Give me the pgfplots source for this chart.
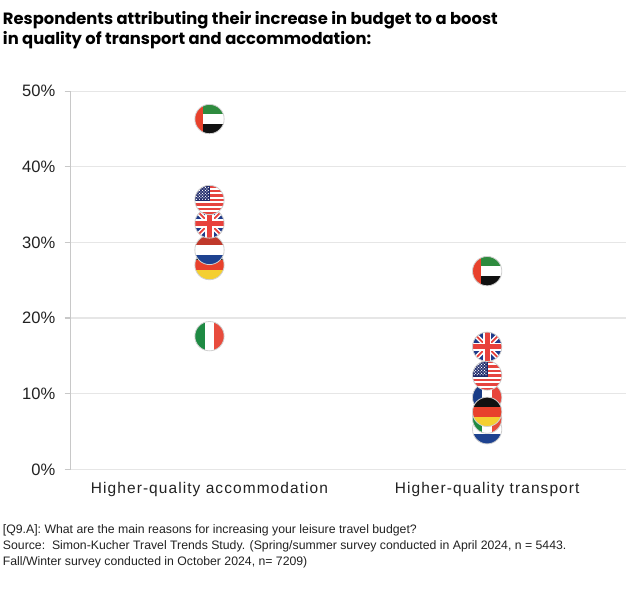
\documentclass[border=0pt]{standalone}
\usepackage{fontspec}
\setmainfont{Liberation Sans}
\newfontfamily\titlefont{Poppins}
\newfontfamily\labelfont{Liberation Sans}[LetterSpace=7]
\usepackage{pgfplots}
\pgfplotsset{compat=1.18}

\definecolor{axisgray}{HTML}{C8C8C8}
\definecolor{gridgray}{HTML}{E6E6E6}
\definecolor{labelcol}{HTML}{222222}
\definecolor{flagborder}{HTML}{D0D0D0}
\definecolor{uaered}{HTML}{E8412C}
\definecolor{uaegreen}{HTML}{2E8B3E}
\definecolor{flagblack}{HTML}{111111}
\definecolor{usred}{HTML}{E6443F}
\definecolor{usblue}{HTML}{1F2A6B}
\definecolor{ukblue}{HTML}{1F3A8A}
\definecolor{ukred}{HTML}{E8413C}
\definecolor{nlred}{HTML}{C0392B}
\definecolor{nlblue}{HTML}{1E4290}
\definecolor{degold}{HTML}{F4CF31}
\definecolor{dered}{HTML}{E8412C}
\definecolor{itgreen}{HTML}{1E8A43}
\definecolor{itred}{HTML}{E84C3D}
\definecolor{frblue}{HTML}{183C86}
\definecolor{frred}{HTML}{E8453C}

\newdimen\flagR \flagR=11pt
\newcommand\flagclip{\pgfpathcircle{\pgfpointorigin}{\flagR}\pgfusepath{clip}}
\newcommand\flagborder{\pgfsetstrokecolor{flagborder}\pgfsetlinewidth{0.6pt}%
  \pgfpathcircle{\pgfpointorigin}{\flagR}\pgfusepath{stroke}}
\newcommand\rectfill[5]{\pgfsetfillcolor{#1}%
  \pgfpathrectanglecorners{\pgfpoint{#2\flagR}{#3\flagR}}{\pgfpoint{#4\flagR}{#5\flagR}}%
  \pgfusepath{fill}}
\newcommand\diag[2]{\pgfsetstrokecolor{#1}\pgfsetlinewidth{#2\flagR}%
  \pgfpathmoveto{\pgfpoint{-1\flagR}{-1\flagR}}\pgfpathlineto{\pgfpoint{1\flagR}{1\flagR}}%
  \pgfpathmoveto{\pgfpoint{-1\flagR}{1\flagR}}\pgfpathlineto{\pgfpoint{1\flagR}{-1\flagR}}%
  \pgfusepath{stroke}}

\pgfdeclareplotmark{nl}{%
  \pgfscope\flagclip
  \rectfill{nlred}{-1}{0.333}{1}{1}%
  \rectfill{white}{-1}{-0.333}{1}{0.333}%
  \rectfill{nlblue}{-1}{-1}{1}{-0.333}%
  \endpgfscope\flagborder}
\pgfdeclareplotmark{de}{%
  \pgfscope\flagclip
  \rectfill{flagblack}{-1}{0.333}{1}{1}%
  \rectfill{dered}{-1}{-0.333}{1}{0.333}%
  \rectfill{degold}{-1}{-1}{1}{-0.333}%
  \endpgfscope\flagborder}
\pgfdeclareplotmark{it}{%
  \pgfscope\flagclip
  \rectfill{itgreen}{-1}{-1}{-0.333}{1}%
  \rectfill{white}{-0.333}{-1}{0.333}{1}%
  \rectfill{itred}{0.333}{-1}{1}{1}%
  \endpgfscope\flagborder}
\pgfdeclareplotmark{fr}{%
  \pgfscope\flagclip
  \rectfill{frblue}{-1}{-1}{-0.333}{1}%
  \rectfill{white}{-0.333}{-1}{0.333}{1}%
  \rectfill{frred}{0.333}{-1}{1}{1}%
  \endpgfscope\flagborder}
\pgfdeclareplotmark{uae}{%
  \pgfscope\flagclip
  \rectfill{uaegreen}{-0.45}{0.333}{1}{1}%
  \rectfill{white}{-0.45}{-0.333}{1}{0.333}%
  \rectfill{flagblack}{-0.45}{-1}{1}{-0.333}%
  \rectfill{uaered}{-1}{-1}{-0.45}{1}%
  \endpgfscope\flagborder}
\pgfdeclareplotmark{us}{%
  \pgfscope\flagclip
  \rectfill{white}{-1}{-1}{1}{1}%
  \foreach \t in {1,0.6923,0.3846,0.0769,-0.2308,-0.5385,-0.8462}{%
    \pgfsetfillcolor{usred}%
    \pgfpathrectanglecorners{\pgfpoint{-1\flagR}{\t\flagR}}{\pgfpoint{1\flagR}{\t\flagR-0.1538\flagR}}%
    \pgfusepath{fill}}%
  \rectfill{usblue}{-1}{-0.077}{0.05}{1}%
  \pgfsetfillcolor{white}%
  \foreach \sx in {-0.88,-0.68,-0.48,-0.28,-0.08}{%
    \foreach \sy in {0.05,0.25,0.45,0.65,0.85}{%
      \pgfpathcircle{\pgfpoint{\sx\flagR}{\sy\flagR}}{0.045\flagR}}}%
  \foreach \sx in {-0.78,-0.58,-0.38,-0.18}{%
    \foreach \sy in {0.15,0.35,0.55,0.75}{%
      \pgfpathcircle{\pgfpoint{\sx\flagR}{\sy\flagR}}{0.045\flagR}}}%
  \pgfusepath{fill}%
  \endpgfscope\flagborder}
\pgfdeclareplotmark{uk}{%
  \pgfscope\flagclip
  \rectfill{ukblue}{-1}{-1}{1}{1}%
  \diag{white}{0.32}%
  \diag{ukred}{0.12}%
  \rectfill{white}{-1}{-0.28}{1}{0.28}%
  \rectfill{white}{-0.28}{-1}{0.28}{1}%
  \rectfill{ukred}{-1}{-0.16}{1}{0.16}%
  \rectfill{ukred}{-0.16}{-1}{0.16}{1}%
  \endpgfscope\flagborder}

\begin{document}
\begin{tikzpicture}
\useasboundingbox[fill=white] (0pt,0pt) rectangle (480pt,-446.25pt);
\node[anchor=base west, inner sep=0pt, text=black] at (2pt,-18.3pt)
  {\titlefont\bfseries\fontsize{12.25}{14}\selectfont Respondents attributing their increase in budget to a boost};
\node[anchor=base west, inner sep=0pt, text=black] at (2pt,-33.6pt)
  {\titlefont\bfseries\fontsize{12.25}{14}\selectfont in quality of transport and accommodation:};
\begin{axis}[
  at={(53pt,-352pt)}, anchor=south west,
  scale only axis, width=416.5pt, height=283.7pt,
  xmin=-0.5, xmax=1.5, ymin=0, ymax=50,
  axis lines*=left, axis line style={-},
  x axis line style={draw=none},
  y axis line style={draw=axisgray, line width=0.8pt},
  ytick={0,10,20,30,40,50},
  yticklabel={\pgfmathprintnumber{\tick}\%},
  /pgf/number format/assume math mode=true,
  xtick={0,1},
  xticklabels={Higher-quality accommodation, Higher-quality transport},
  major tick length=4.5pt, tick align=outside,
  ytick style={draw=axisgray, line width=0.8pt},
  xtick style={draw=none},
  ymajorgrids, grid style={draw=gridgray, line width=0.8pt},
  yticklabel style={font=\fontsize{12.4}{14}\selectfont, text=labelcol, xshift=-3.5pt},
  xticklabel style={font=\labelfont\fontsize{11.6}{14}\selectfont, text=labelcol, anchor=base, yshift=-14pt},
  clip=false,
]
% left column: accommodation
\addplot[only marks, mark=it] coordinates {(0,17.6)};
\addplot[only marks, mark=de] coordinates {(0,27.0)};
\addplot[only marks, mark=nl] coordinates {(0,29.0)};
\addplot[only marks, mark=uk] coordinates {(0,32.5)};
\addplot[only marks, mark=us] coordinates {(0,35.6)};
\addplot[only marks, mark=uae] coordinates {(0,46.3)};
% right column: transport
\addplot[only marks, mark=nl] coordinates {(1,5.3)};
\addplot[only marks, mark=it] coordinates {(1,6.7)};
\addplot[only marks, mark=fr] coordinates {(1,9.5)};
\addplot[only marks, mark=de] coordinates {(1,7.6)};
\addplot[only marks, mark=us] coordinates {(1,12.4)};
\addplot[only marks, mark=uk] coordinates {(1,16.2)};
\addplot[only marks, mark=uae] coordinates {(1,26.2)};
\end{axis}
\node[anchor=base west, inner sep=0pt, text=labelcol, font=\fontsize{9.2}{11}\selectfont] at (2pt,-400.5pt)
  {[Q9.A]: What are the main reasons for increasing your leisure travel budget?};
\node[anchor=base west, inner sep=0pt, text=labelcol, font=\fontsize{9.2}{11}\selectfont] at (2pt,-412.5pt)
  {Source:\ \ Simon-Kucher Travel Trends Study. (Spring/summer survey conducted in April 2024, n = 5443.};
\node[anchor=base west, inner sep=0pt, text=labelcol, font=\fontsize{9.2}{11}\selectfont] at (2pt,-424.1pt)
  {Fall/Winter survey conducted in October 2024, n= 7209)};
\end{tikzpicture}
\end{document}
